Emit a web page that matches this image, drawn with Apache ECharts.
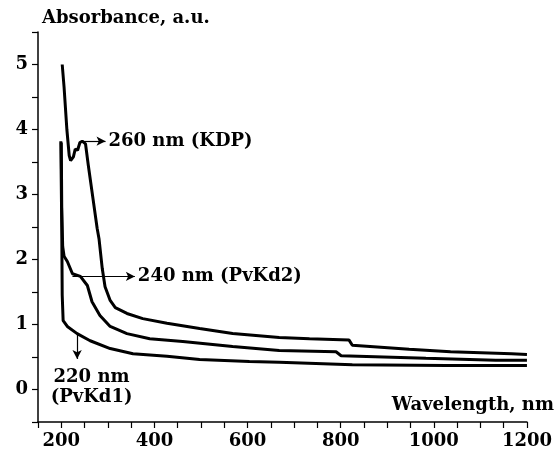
<!DOCTYPE html>
<html>
<head>
<meta charset="utf-8">
<script src="https://cdn.jsdelivr.net/npm/echarts@6/dist/echarts.min.js"></script>
<style>
  html, body { margin: 0; padding: 0; background: #fff; }
  #chart { width: 555px; height: 454px; }
</style>
</head>
<body>
<div id="chart"></div>
<script>
// spectra: [wavelength nm, absorbance]
var kdp = [[202, 5.0], [206, 4.65], [212, 4.0], [217, 3.6], [220, 3.52], [226, 3.58], [230, 3.7],
  [235, 3.68], [240, 3.8], [245, 3.82], [252, 3.78], [258, 3.45], [268, 2.94], [277, 2.48],
  [281, 2.32], [288, 1.86], [294, 1.58], [305, 1.37], [316, 1.26], [341, 1.17], [375, 1.09],
  [427, 1.02], [497, 0.94], [568, 0.86], [668, 0.8], [733, 0.78], [818, 0.76], [825, 0.68],
  [947, 0.62], [1036, 0.58], [1167, 0.55], [1200, 0.54]];
var pvkd2 = [[200, 3.8], [201, 2.8], [203, 2.2], [206, 2.05], [213, 1.97], [224, 1.78], [241, 1.74],
  [256, 1.6], [266, 1.35], [283, 1.14], [305, 0.97], [341, 0.86], [390, 0.78], [461, 0.74],
  [568, 0.66], [668, 0.6], [790, 0.58], [801, 0.52], [983, 0.48], [1133, 0.45], [1200, 0.45]];
var pvkd1 = [[199, 3.82], [201, 2.5], [202, 1.45], [204, 1.06], [213, 0.97], [234, 0.86], [262, 0.75],
  [305, 0.63], [354, 0.55], [427, 0.51], [497, 0.46], [604, 0.43], [668, 0.42], [825, 0.38],
  [1026, 0.37], [1200, 0.37]];

// annotation arrows [from, to] in data coords
var kdpArrow = [[245, 3.82], [295, 3.82]];
var pvkd2Arrow = [[224, 1.74], [358, 1.74]];
var pvkd1Arrow = [[234, 0.86], [234, 0.47]];
var pvkd1Text = [265, 0.03];

var font = '"DejaVu Serif", "Liberation Serif", serif';
var myChart = echarts.init(document.getElementById('chart'));

function curve(name, data, arrow, text) {
  var s = {
    name: name, type: 'line', data: data, symbol: 'none', smooth: false,
    lineStyle: {color: '#000', width: 3},
    silent: true
  };
  if (arrow) {
    s.markLine = {
      silent: true,
      symbol: ['none', 'arrow'], symbolSize: [7, 9],
      lineStyle: {color: '#000', width: 1.2, type: 'solid'},
      label: text ? {show: true, position: 'end', formatter: text, color: '#000',
        fontFamily: font, fontWeight: 'bold', fontSize: 18, distance: 3} : {show: false},
      data: [[{coord: arrow[0]}, {coord: arrow[1]}]]
    };
  }
  return s;
}

var option = {
  animation: false,
  grid: {left: 38, right: 27, top: 32, bottom: 32},
  xAxis: {
    type: 'value', min: 150, max: 1200, interval: 50,
    axisLine: {onZero: false, lineStyle: {color: '#000', width: 1.5}},
    axisTick: {show: true, length: 6, inside: false, lineStyle: {color: '#000', width: 1.2}},
    axisLabel: {
      color: '#000', fontFamily: font, fontWeight: 'bold', fontSize: 18, margin: 10,
      formatter: function (v) { return v % 200 === 0 ? v : ''; }
    },
    splitLine: {show: false}
  },
  yAxis: {
    type: 'value', min: -0.5, max: 5.5, interval: 0.5,
    name: 'Absorbance, a.u.', nameLocation: 'end', nameGap: 5,
    nameTextStyle: {color: '#000', fontFamily: font, fontWeight: 'bold', fontSize: 18,
      align: 'left', padding: [0, 0, 0, 4]},
    axisLine: {onZero: false, lineStyle: {color: '#000', width: 1.5}},
    axisTick: {show: true, length: 6, lineStyle: {color: '#000', width: 1.2}},
    axisLabel: {
      color: '#000', fontFamily: font, fontWeight: 'bold', fontSize: 18, margin: 10,
      formatter: function (v) { return Math.abs(v - Math.round(v)) < 1e-6 && v >= 0 && v <= 5 ? Math.round(v) : ''; }
    },
    splitLine: {show: false}
  },
  graphic: [{
    type: 'text', right: 1, top: 396,
    style: {text: 'Wavelength, nm', fill: '#000', font: 'bold 18px ' + font}
  }],
  series: [
    curve('KDP', kdp, kdpArrow, '260 nm (KDP)'),
    curve('PvKd2', pvkd2, pvkd2Arrow, '240 nm (PvKd2)'),
    curve('PvKd1', pvkd1, pvkd1Arrow, null),
    {
      type: 'scatter', data: [pvkd1Text], symbolSize: 0, silent: true,
      itemStyle: {color: '#000', opacity: 1},
      label: {show: true, position: 'inside', formatter: '220 nm\n(PvKd1)', color: '#000',
        textBorderWidth: 0, fontFamily: font, fontWeight: 'bold', fontSize: 18, lineHeight: 20, align: 'center'}
    }
  ]
};
myChart.setOption(option);
</script>
</body>
</html>
